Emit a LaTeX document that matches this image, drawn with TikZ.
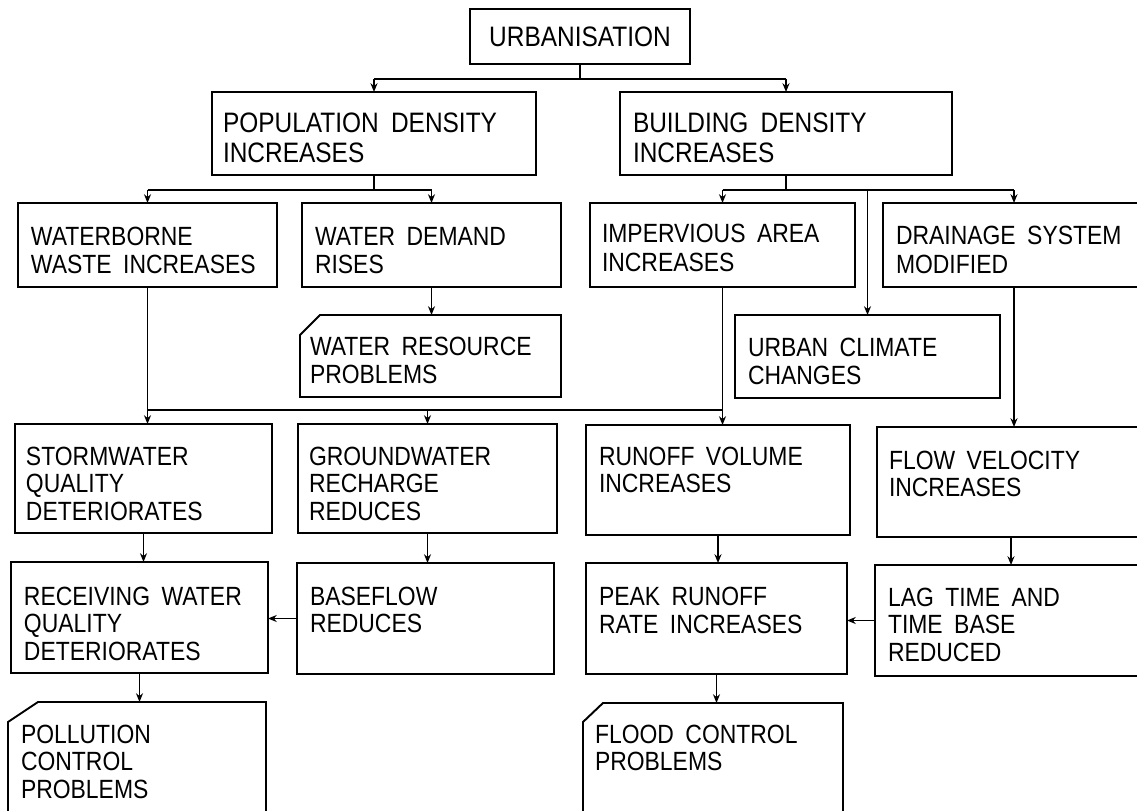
\documentclass[tikz,border=0pt]{standalone}
\usepackage{fontspec}
\setmainfont{Liberation Sans}[FakeStretch=0.87,WordSpace=1.8]
\usetikzlibrary{arrows.meta}
\tikzset{
 box/.style={draw, line width=1.1pt, inner sep=0pt, outer sep=0pt},
 cutbox/.style={inner sep=0pt, outer sep=0pt},
 lbl/.style={anchor=north west, inner sep=0pt, outer sep=0pt, align=left, font=\fontsize{15}{15.6}\selectfont},
 big/.style={font=\fontsize{16}{17}\selectfont},
 conn/.style={line width=1pt},
 arr/.style={conn, -{Stealth[length=5pt,width=4pt]}},
}
% [style]{name}{x1}{y1}{x2}{y2}
\newcommand\mybox[6][box]{\node[#1, minimum width={(#5-#3)*0.02cm}, minimum height={(#6-#4)*0.02cm}] (#2) at ({(#3+#5)/2},{(#4+#6)/2}) {};}
% {name}{dx}{dy}
\newcommand\cutframe[3]{\draw[line width=1.1pt] ([shift={(0,#3)}]#1.north west) -- ([shift={(#2,0)}]#1.north west) -- (#1.north east) -- (#1.south east) -- (#1.south west) -- cycle;}
\begin{document}
\begin{tikzpicture}[x=0.02cm,y=-0.02cm]
\useasboundingbox (0,0) rectangle (1137,811);
\fill[white] (0,0) rectangle (1137,811);
\clip (0,0) rectangle (1137,811);

% boxes
\node[box, big, minimum width={220*0.02cm}, minimum height={55*0.02cm}] (urb) at (580,36.5) {URBANISATION};
\mybox{pop}{212}{92}{536}{175}
\mybox{build}{620}{92}{952}{175}
\mybox{wb}{18}{203}{277}{287}
\mybox{wd}{302}{203}{561}{287}
\mybox{imp}{590}{203}{855}{287}
\mybox{drain}{883}{203}{1145}{287}
\mybox[cutbox]{wr}{300}{315}{561}{397}
\cutframe{wr}{20}{20}
\mybox{uc}{735}{315}{1000}{398}
\mybox{storm}{15}{424}{272}{533}
\mybox{gw}{298}{424}{557}{533}
\mybox{ro}{586}{425}{850}{535}
\mybox{flow}{877}{427}{1145}{537}
\mybox{recv}{11}{562}{268}{673}
\mybox{base}{297}{563}{554}{674}
\mybox{peak}{586}{563}{847}{674}
\mybox{lag}{875}{565}{1145}{676}
\mybox[cutbox]{poll}{8}{702}{266}{830}
\cutframe{poll}{30}{20}
\mybox[cutbox]{flood}{583}{703}{843}{830}
\cutframe{flood}{20}{19}

% labels
\node[lbl, font=\fontsize{16}{17}\selectfont] (pop-t) at (223,113) {POPULATION DENSITY\\INCREASES};
\node[lbl, font=\fontsize{16}{17}\selectfont] (build-t) at (633,113) {BUILDING DENSITY\\INCREASES};
\node[lbl, font=\fontsize{15}{16}\selectfont] (wb-t) at (31,227) {WATERBORNE\\WASTE INCREASES};
\node[lbl, font=\fontsize{15}{16}\selectfont] (wd-t) at (315,227) {WATER DEMAND\\RISES};
\node[lbl, font=\fontsize{15}{16.4}\selectfont] (imp-t) at (602,224) {IMPERVIOUS AREA\\INCREASES};
\node[lbl, font=\fontsize{15}{16.4}\selectfont] (drain-t) at (896,226) {DRAINAGE SYSTEM\\MODIFIED};
\node[lbl, font=\fontsize{15}{15.9}\selectfont] (wr-t) at (310,337) {WATER RESOURCE\\PROBLEMS};
\node[lbl, font=\fontsize{15}{15.9}\selectfont] (uc-t) at (748,338) {URBAN CLIMATE\\CHANGES};
\node[lbl] (storm-t) at (26,447) {STORMWATER\\QUALITY\\DETERIORATES};
\node[lbl] (gw-t) at (309,447) {GROUNDWATER\\RECHARGE\\REDUCES};
\node[lbl] (ro-t) at (599,447) {RUNOFF VOLUME\\INCREASES};
\node[lbl] (flow-t) at (889,451) {FLOW VELOCITY\\INCREASES};
\node[lbl] (recv-t) at (24,587) {RECEIVING WATER\\QUALITY\\DETERIORATES};
\node[lbl] (base-t) at (310,587) {BASEFLOW\\REDUCES};
\node[lbl, font=\fontsize{15}{15.9}\selectfont] (peak-t) at (599,587) {PEAK RUNOFF\\RATE INCREASES};
\node[lbl] (lag-t) at (888,588) {LAG TIME AND\\TIME BASE\\REDUCED};
\node[lbl] (poll-t) at (21,725) {POLLUTION\\CONTROL\\PROBLEMS};
\node[lbl] (flood-t) at (595,725) {FLOOD CONTROL\\PROBLEMS};

% connectors
\coordinate (h1) at (0,79);
\draw[conn] (urb.south) -- (urb.south |- h1);
\draw[conn] (pop.north |- h1) -- (build.north |- h1);
\draw[arr] (pop.north |- h1) -- (pop.north);
\draw[arr] (build.north |- h1) -- (build.north);

\coordinate (h2) at (0,190);
\draw[conn] (pop.south) -- (pop.south |- h2);
\draw[conn] (wb.north |- h2) -- (wd.north |- h2);
\draw[arr] (wb.north |- h2) -- (wb.north);
\draw[arr] (wd.north |- h2) -- (wd.north);
\draw[conn] (build.south) -- (build.south |- h2);
\draw[conn] (imp.north |- h2) -- (drain.north |- h2);
\draw[arr] (imp.north |- h2) -- (imp.north);
\draw[arr] (drain.north |- h2) -- (drain.north);
\draw[arr] (uc.north |- h2) -- (uc.north);
\draw[arr] (wd.south) -- (wd.south |- wr.north);

\coordinate (h3) at (0,410);
\draw[arr] (wb.south) -- (wb.south |- storm.north);
\draw[arr] (imp.south) -- (imp.south |- ro.north);
\draw[conn] (wb.south |- h3) -- (imp.south |- h3);
\draw[arr] (gw.north |- h3) -- (gw.north);
\draw[arr] (drain.south) -- (drain.south |- flow.north);

\draw[arr] (storm.south) -- (storm.south |- recv.north);
\draw[arr] (gw.south) -- (gw.south |- base.north);
\draw[arr] (ro.south) -- (ro.south |- peak.north);
\draw[arr] (flow.south) -- (flow.south |- lag.north);
\draw[arr] (base.west) -- (base.west -| recv.east);
\draw[arr] (lag.west) -- (lag.west -| peak.east);
\draw[arr] (recv.south) -- (recv.south |- poll.north);
\draw[arr] (peak.south) -- (peak.south |- flood.north);
\end{tikzpicture}
\end{document}
